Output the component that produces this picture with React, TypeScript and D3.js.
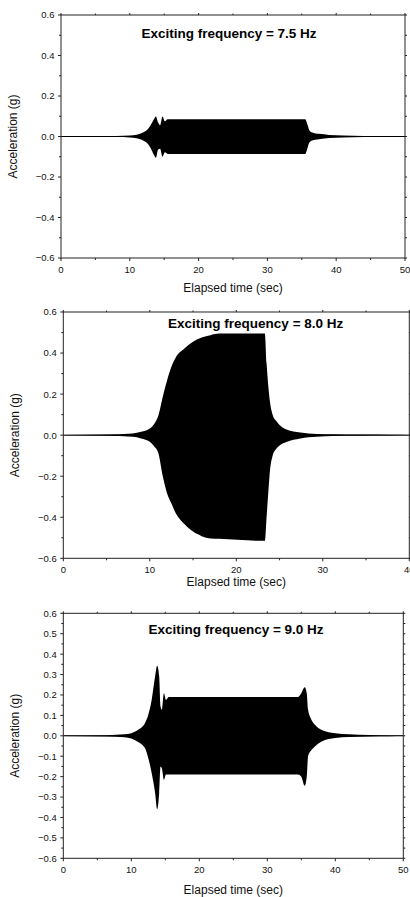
import * as d3 from "d3";

// envelope of the acceleration record (g)
const TIME_75 = [0, 8, 10, 11, 12, 12.5, 13, 13.5, 13.8, 14.1, 14.4, 14.75, 15.1, 15.5, 35.5, 35.8, 36.1, 36.5, 37.5, 39, 41, 44, 47, 50];
const UPPER_75 = [0.002, 0.003, 0.005, 0.009, 0.021, 0.032, 0.054, 0.085, 0.099, 0.07, 0.055, 0.099, 0.075, 0.085, 0.085, 0.06, 0.03, 0.02, 0.013, 0.008, 0.005, 0.003, 0.002, 0.001];
const LOWER_75 = [-0.002, -0.003, -0.005, -0.009, -0.021, -0.032, -0.055, -0.09, -0.105, -0.065, -0.06, -0.1, -0.078, -0.086, -0.086, -0.06, -0.03, -0.02, -0.013, -0.008, -0.005, -0.003, -0.002, -0.001];

const TIME_80 = [0, 5, 8, 9, 10, 10.5, 11, 11.5, 12, 12.5, 13, 14, 15, 16, 17, 18, 23.3, 23.5, 23.7, 23.9, 24.2, 24.6, 25, 25.8, 27.4, 29.3, 31.2, 34, 38, 40];
const UPPER_80 = [0.001, 0.003, 0.008, 0.016, 0.032, 0.054, 0.097, 0.187, 0.268, 0.333, 0.378, 0.422, 0.455, 0.476, 0.487, 0.495, 0.495, 0.35, 0.24, 0.16, 0.1, 0.07, 0.05, 0.028, 0.013, 0.006, 0.004, 0.003, 0.002, 0.001];
const LOWER_80 = [-0.001, -0.003, -0.008, -0.016, -0.032, -0.054, -0.089, -0.2, -0.284, -0.333, -0.38, -0.433, -0.47, -0.492, -0.503, -0.505, -0.515, -0.4, -0.28, -0.17, -0.1, -0.068, -0.05, -0.033, -0.016, -0.008, -0.004, -0.003, -0.002, -0.001];

const TIME_90 = [0, 6.5, 9, 10, 11, 12, 12.5, 13, 13.5, 13.8, 14.1, 14.3, 14.5, 14.8, 15.1, 15.5, 34.5, 35, 35.5, 35.8, 36, 36.5, 37, 38, 40, 42, 45, 48, 50];
const UPPER_90 = [0.001, 0.003, 0.007, 0.013, 0.03, 0.062, 0.103, 0.176, 0.29, 0.343, 0.29, 0.144, 0.127, 0.209, 0.176, 0.19, 0.19, 0.209, 0.238, 0.209, 0.127, 0.078, 0.054, 0.029, 0.013, 0.007, 0.004, 0.002, 0.001];
const LOWER_90 = [-0.001, -0.003, -0.007, -0.013, -0.03, -0.06, -0.11, -0.183, -0.28, -0.36, -0.28, -0.15, -0.16, -0.216, -0.19, -0.19, -0.19, -0.2, -0.245, -0.2, -0.1, -0.07, -0.052, -0.028, -0.011, -0.006, -0.003, -0.002, -0.001];

const TITLES = ["Exciting frequency = 7.5 Hz", "Exciting frequency = 8.0 Hz", "Exciting frequency = 9.0 Hz"];
const X_MAX = [50, 40, 50];
const Y_TICK_STEP = [0.2, 0.2, 0.1];
const X_LABEL = "Elapsed time (sec)";
const Y_LABEL = "Acceleration (g)";

const WIDTH = 410;
const HEIGHT = 897;
const FONT = "'Liberation Sans', Arial, sans-serif";
const AXIS = "#222";

type Box = {
  left: number;
  right: number;
  top: number;
  bottom: number;
  titleX: number;
  titleY: number;
  xLabelY: number;
  yLabelX: number;
};

const BOXES: Box[] = [
  { left: 61, right: 405, top: 15, bottom: 258, titleX: 229, titleY: 37.5, xLabelY: 292, yLabelX: 16.5 },
  { left: 63.3, right: 409.3, top: 312, bottom: 558.3, titleX: 255.7, titleY: 327.5, xLabelY: 585.5, yLabelX: 19.5 },
  { left: 63.3, right: 403.3, top: 613.3, bottom: 858.3, titleX: 236, titleY: 633.5, xLabelY: 893.5, yLabelX: 19.5 },
];

const round = (v: number) => Math.round(v * 1000) / 1000;

function Panel({ index, times, upper, lower }: { index: number; times: number[]; upper: number[]; lower: number[] }) {
  const box = BOXES[index];
  const xMax = X_MAX[index];
  const step = Y_TICK_STEP[index];
  const x = d3.scaleLinear().domain([0, xMax]).range([box.left, box.right]);
  const y = d3.scaleLinear().domain([-0.6, 0.6]).range([box.bottom, box.top]);

  const xTicks = d3.range(0, xMax + 0.001, 10);
  const xMinor = d3.range(5, xMax, 10);
  const nSteps = Math.round(1.2 / step);
  const yMajor = d3.range(nSteps + 1).map((i) => round(-0.6 + i * step));
  const yMinor = d3.range(nSteps).map((i) => round(-0.6 + (i + 0.5) * step));

  const area = d3
    .area<number>()
    .x((i) => x(times[i]))
    .y0((i) => y(lower[i]))
    .y1((i) => y(upper[i]))
    .curve(d3.curveMonotoneX);

  const clipId = `clip-${index}`;
  const yMid = (box.top + box.bottom) / 2;

  return (
    <g fontFamily={FONT}>
      <defs>
        <clipPath id={clipId}>
          <rect x={box.left} y={box.top} width={box.right - box.left} height={box.bottom - box.top} />
        </clipPath>
      </defs>
      <g clipPath={`url(#${clipId})`}>
        <line x1={x(0)} x2={x(xMax)} y1={y(0)} y2={y(0)} stroke="#000" strokeWidth={1} />
        <path d={area(d3.range(times.length)) ?? undefined} fill="#000" />
      </g>

      {/* frame */}
      <rect x={box.left} y={box.top} width={box.right - box.left} height={box.bottom - box.top} fill="none" stroke={AXIS} strokeWidth={1} />

      {/* x ticks */}
      {xTicks.map((t) => (
        <g key={`xt${t}`}>
          <line x1={x(t)} x2={x(t)} y1={box.bottom} y2={box.bottom + 3} stroke={AXIS} />
          <line x1={x(t)} x2={x(t)} y1={box.top} y2={box.top - 2} stroke={AXIS} />
          <text x={x(t)} y={box.bottom + 14.5} fontSize={9.5} textAnchor="middle" fill="#111">
            {t}
          </text>
        </g>
      ))}
      {xMinor.map((t) => (
        <g key={`xm${t}`}>
          <line x1={x(t)} x2={x(t)} y1={box.bottom} y2={box.bottom + 2} stroke={AXIS} />
          <line x1={x(t)} x2={x(t)} y1={box.top} y2={box.top - 1.5} stroke={AXIS} />
        </g>
      ))}

      {/* y ticks */}
      {yMajor.map((v) => (
        <g key={`yt${v}`}>
          <line x1={box.left - 3} x2={box.left} y1={y(v)} y2={y(v)} stroke={AXIS} />
          <line x1={box.right} x2={box.right + 2} y1={y(v)} y2={y(v)} stroke={AXIS} />
          <text x={box.left - 6.5} y={y(v) + 3.4} fontSize={9.5} textAnchor="end" fill="#111">
            {d3.format(".1f")(v)}
          </text>
        </g>
      ))}
      {yMinor.map((v) => (
        <g key={`ym${v}`}>
          <line x1={box.left - 2} x2={box.left} y1={y(v)} y2={y(v)} stroke={AXIS} />
          <line x1={box.right} x2={box.right + 2} y1={y(v)} y2={y(v)} stroke={AXIS} />
        </g>
      ))}

      <text x={box.titleX} y={box.titleY} fontSize={13.5} fontWeight="bold" textAnchor="middle" fill="#000">
        {TITLES[index]}
      </text>
      <text x={(box.left + box.right) / 2} y={box.xLabelY} fontSize={12} textAnchor="middle" fill="#111">
        {X_LABEL}
      </text>
      <text
        x={box.yLabelX}
        y={yMid}
        fontSize={12}
        textAnchor="middle"
        fill="#111"
        transform={`rotate(-90 ${box.yLabelX} ${yMid})`}
      >
        {Y_LABEL}
      </text>
    </g>
  );
}

export default function App() {
  return (
    <svg
      width={WIDTH}
      height={HEIGHT}
      viewBox={`0 0 ${WIDTH} ${HEIGHT}`}
      style={{ position: "absolute", left: 0, top: 0, display: "block", background: "#fff" }}
    >
      <rect x={0} y={0} width={WIDTH} height={HEIGHT} fill="#fff" />
      <Panel index={0} times={TIME_75} upper={UPPER_75} lower={LOWER_75} />
      <Panel index={1} times={TIME_80} upper={UPPER_80} lower={LOWER_80} />
      <Panel index={2} times={TIME_90} upper={UPPER_90} lower={LOWER_90} />
    </svg>
  );
}
